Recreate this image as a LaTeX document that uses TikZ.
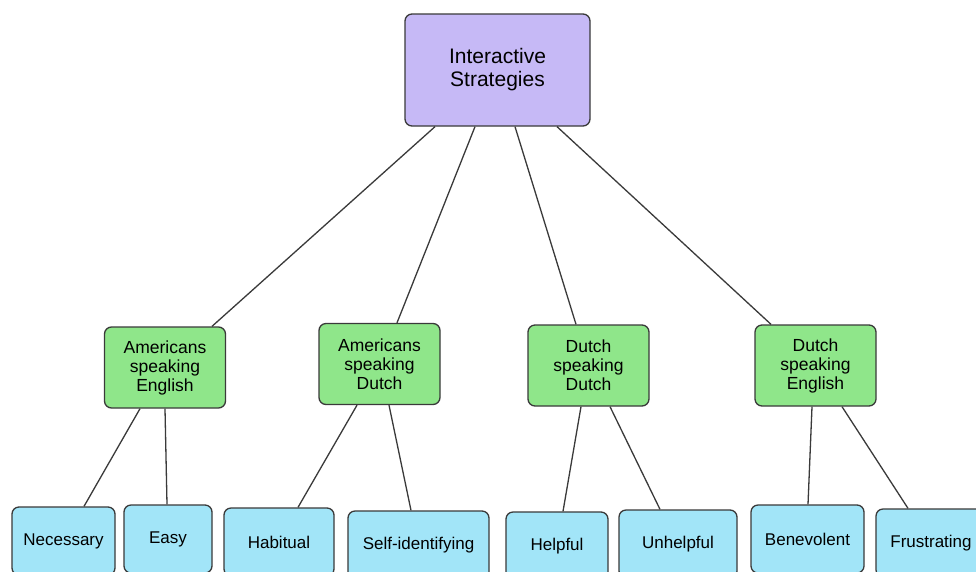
\documentclass[tikz,border=0pt]{standalone}
\usepackage{fontspec}
\setmainfont{Liberation Sans}
\usetikzlibrary{positioning}
\definecolor{rootfill}{HTML}{C6B9F6}
\definecolor{groupfill}{HTML}{8FE68A}
\definecolor{leaffill}{HTML}{A2E5F8}
\definecolor{edgegray}{HTML}{3A3A3A}
\tikzset{
  root/.style={rectangle, rounded corners=7pt, minimum width=185pt, minimum height=112pt, align=center, draw=edgegray, line width=1.3pt, fill=rootfill, font=\fontsize{21}{23}\selectfont},
  group/.style={rectangle, rounded corners=7pt, minimum width=121pt, minimum height=81pt, align=center, draw=edgegray, line width=1.3pt, fill=groupfill, font=\fontsize{17.5}{19}\selectfont},
  leaf/.style={rectangle, rounded corners=7pt, minimum height=68pt, align=center, draw=edgegray, line width=1.3pt, fill=leaffill, font=\fontsize{17}{19}\selectfont},
  link/.style={edgegray, line width=1.3pt}
}
\begin{document}
\begin{tikzpicture}[x=1pt, y=-1pt]
  \clip (0,0) rectangle (976,571);
  \fill[white] (0,0) rectangle (976,571);

  \node (strat) [root] at (497.5,70) {Interactive\\Strategies};

  % middle row
  \node (ameng) [group] at (165,367.5) {Americans\\speaking\\English};
  \node (amdut) [group] at (379.5,364) {Americans\\speaking\\Dutch};
  \node (dutdut) [group] at (588.5,365.5) {Dutch\\speaking\\Dutch};
  \node (duteng) [group] at (815.5,365.5) {Dutch\\speaking\\English};

  % bottom row
  \node (necess) [leaf, minimum width=103pt] at (63.5,541) {Necessary};
  \node (easy) [leaf, minimum width=88pt] at (168,539) {Easy};
  \node (habit) [leaf, minimum width=110pt] at (279,542) {Habitual};
  \node (selfid) [leaf, minimum width=141pt] at (418.5,545) {Self-identifying};
  \node (helpf) [leaf, minimum width=102pt] at (557,546) {Helpful};
  \node (unhelp) [leaf, minimum width=118pt] at (678,544) {Unhelpful};
  \node (benev) [leaf, minimum width=113pt] at (807.5,539) {Benevolent};
  \node (frust) [leaf, minimum width=110pt] at (931,543) {Frustrating};

  \draw [link] ([xshift=-62.5pt]strat.south) -- ([xshift=47pt]ameng.north);
  \draw [link] ([xshift=-22.5pt]strat.south) -- ([xshift=17.5pt]amdut.north);
  \draw [link] ([xshift=17.5pt]strat.south) -- ([xshift=-12.5pt]dutdut.north);
  \draw [link] ([xshift=59.5pt]strat.south) -- ([xshift=-44.5pt]duteng.north);

  \draw [link] ([xshift=-25pt]ameng.south) -- ([xshift=20.5pt]necess.north);
  \draw [link] (ameng.south) -- ([xshift=-1pt]easy.north);
  \draw [link] ([xshift=-22.5pt]amdut.south) -- ([xshift=19pt]habit.north);
  \draw [link] ([xshift=9.5pt]amdut.south) -- ([xshift=-7.5pt]selfid.north);
  \draw [link] ([xshift=-7.5pt]dutdut.south) -- ([xshift=6pt]helpf.north);
  \draw [link] ([xshift=21.5pt]dutdut.south) -- ([xshift=-18pt]unhelp.north);
  \draw [link] ([xshift=-3.5pt]duteng.south) -- ([xshift=0.5pt]benev.north);
  \draw [link] ([xshift=26.5pt]duteng.south) -- ([xshift=-23pt]frust.north);
\end{tikzpicture}
\end{document}
